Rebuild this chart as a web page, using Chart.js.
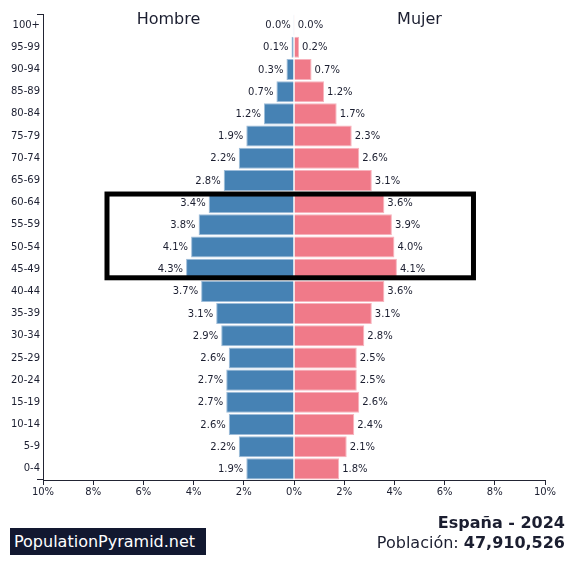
<!DOCTYPE html>
<html>
<head>
<meta charset="utf-8">
<script src="https://cdn.jsdelivr.net/npm/chart.js@4/dist/chart.umd.min.js"></script>
<style>
  html, body { margin: 0; padding: 0; background: #fff; }
  #wrap { position: relative; width: 571px; height: 561px; font-family: 'DejaVu Sans', sans-serif; color: #1b1e30; }
  canvas { position: absolute; left: 0; top: 0; }
  .t { position: absolute; white-space: nowrap; font-size: 16px; line-height: 19px; }
  #brand { position: absolute; left: 10px; top: 528px; width: 192px; height: 27px; padding-left: 4px;
           background: #121830; color: #fff; font-size: 16px; line-height: 27px; white-space: nowrap; }
</style>
</head>
<body>
<div id="wrap">
  <canvas id="c" width="571" height="561"></canvas>
  <div class="t" style="left:43px;width:251px;text-align:center;top:9px;">Hombre</div>
  <div class="t" style="left:294px;width:251px;text-align:center;top:9px;">Mujer</div>
  <div id="brand">PopulationPyramid.net</div>
  <div class="t" style="right:6px;top:513px;font-weight:bold;">España - 2024</div>
  <div class="t" style="right:6px;top:532.5px;">Población: <b>47,910,526</b></div>
</div>
<script>
const ageGroups = ['100+','95-99','90-94','85-89','80-84','75-79','70-74','65-69','60-64','55-59','50-54','45-49','40-44','35-39','30-34','25-29','20-24','15-19','10-14','5-9','0-4'];
const malePct   = [0.01,0.1,0.3,0.7,1.2,1.9,2.2,2.8,3.4,3.8,4.1,4.3,3.7,3.1,2.9,2.6,2.7,2.7,2.6,2.2,1.9];
const femalePct = [0.03,0.2,0.7,1.2,1.7,2.3,2.6,3.1,3.6,3.9,4.0,4.1,3.6,3.1,2.8,2.5,2.5,2.6,2.4,2.1,1.8];
const xTicks = [-10,-8,-6,-4,-2,0,2,4,6,8,10];
const highlightGroups = ['60-64','45-49'];
const highlightRange = [-7.55, 7.25];

const textColor = '#1b1e30';
const axisColor = '#222433';

Chart.defaults.font.family = "'DejaVu Sans', sans-serif";
Chart.defaults.font.size = 10;
Chart.defaults.color = textColor;

const labelPlugin = {
  id: 'barLabels',
  afterDatasetsDraw(chart) {
    const ctx = chart.ctx;
    ctx.save();
    ctx.font = "10px 'DejaVu Sans', sans-serif";
    ctx.fillStyle = textColor;
    ctx.textBaseline = 'middle';
    chart.data.datasets.forEach((ds, di) => {
      const meta = chart.getDatasetMeta(di);
      meta.data.forEach((bar, i) => {
        const v = Math.abs(ds.data[i]);
        const txt = v.toFixed(1) + '%';
        if (di === 0) { ctx.textAlign = 'right'; ctx.fillText(txt, bar.x - 3, bar.y + 0.5); }
        else { ctx.textAlign = 'left'; ctx.fillText(txt, bar.x + 3, bar.y + 0.5); }
      });
    });
    // highlight box
    const xs = chart.scales.x, ys = chart.scales.y;
    const i0 = ageGroups.indexOf(highlightGroups[0]);
    const i1 = ageGroups.indexOf(highlightGroups[1]);
    const top = (ys.getPixelForValue(i0 - 1) + ys.getPixelForValue(i0)) / 2;
    const bot = (ys.getPixelForValue(i1) + ys.getPixelForValue(i1 + 1)) / 2;
    const left = xs.getPixelForValue(highlightRange[0]);
    const right = xs.getPixelForValue(highlightRange[1]);
    ctx.strokeStyle = '#000';
    ctx.lineWidth = 5;
    ctx.strokeRect(left + 2.5, top + 2.5, right - left - 5, bot - top - 5);
    // y axis outer ticks
    const ca = chart.chartArea;
    ctx.strokeStyle = axisColor;
    ctx.lineWidth = 1;
    ctx.beginPath();
    ctx.moveTo(ca.left - 6, ca.top + 0.5); ctx.lineTo(ca.left, ca.top + 0.5);
    ctx.moveTo(ca.left - 6, ca.bottom - 0.5); ctx.lineTo(ca.left, ca.bottom - 0.5);
    ctx.stroke();
    ctx.restore();
  }
};

new Chart(document.getElementById('c'), {
  type: 'bar',
  data: {
    labels: ageGroups,
    datasets: [
      { label: 'Hombre', data: malePct.map(v => -v), backgroundColor: '#4682b4',
        borderColor: '#9dbcd9', borderWidth: 1,
        categoryPercentage: 1, barPercentage: 0.95 },
      { label: 'Mujer', data: femalePct, backgroundColor: '#f07a89',
        borderColor: '#f7b3bd', borderWidth: 1,
        categoryPercentage: 1, barPercentage: 0.95 }
    ]
  },
  options: {
    indexAxis: 'y',
    responsive: false,
    animation: false,
    devicePixelRatio: 1,
    layout: { padding: { top: 14, right: 26, left: 0, bottom: 61 } },
    plugins: { legend: { display: false }, tooltip: { enabled: false } },
    scales: {
      x: {
        stacked: true, min: -10, max: 10,
        afterBuildTicks(scale) { scale.ticks = xTicks.map(v => ({ value: v })); },
        afterFit(scale) { scale.height = 20; },
        ticks: { callback: v => Math.abs(v) + '%', padding: 1, maxRotation: 0, autoSkip: false, color: textColor, font: { size: 10 } },
        grid: { drawOnChartArea: false, drawTicks: true, tickLength: 5, color: axisColor },
        border: { display: true, color: axisColor, width: 1 }
      },
      y: {
        stacked: true,
        afterFit(scale) { scale.width = 43; },
        ticks: { padding: 3, color: textColor, font: { size: 10 }, autoSkip: false },
        grid: { display: false, drawTicks: false },
        border: { display: true, color: axisColor, width: 1 }
      }
    }
  },
  plugins: [labelPlugin]
});
</script>
</body>
</html>
